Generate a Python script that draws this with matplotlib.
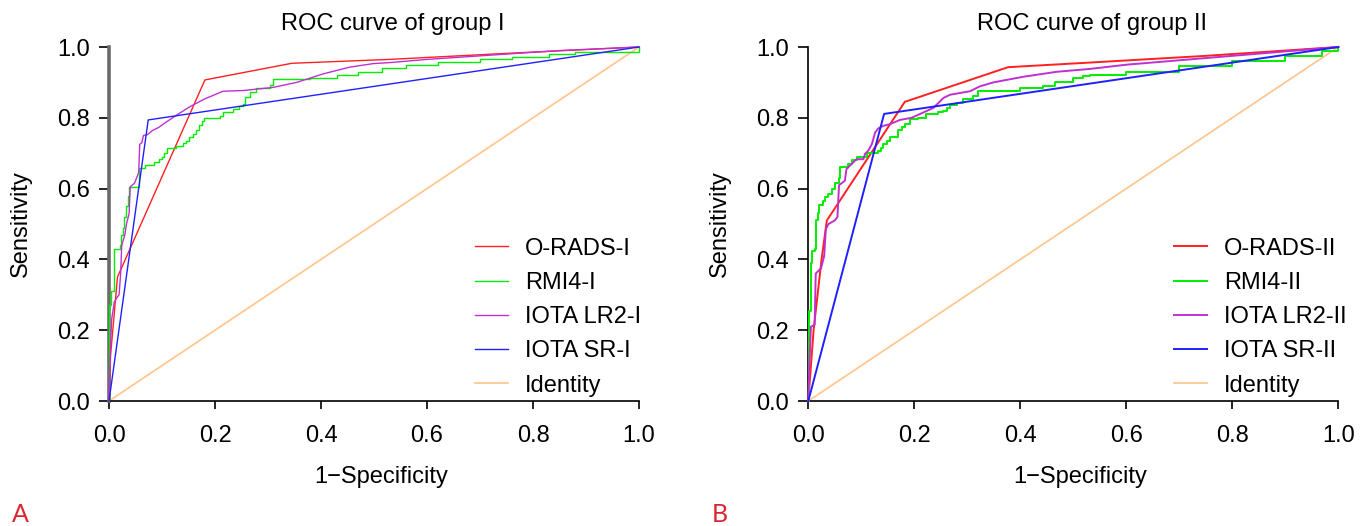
import matplotlib
matplotlib.use("Agg")
import matplotlib.pyplot as plt
import numpy as np

plt.rcParams['font.family'] = ['Liberation Sans', 'DejaVu Sans']

# ---------------- data ----------------
titles = ["ROC curve of group I", "ROC curve of group II"]
xlabel = "1\u2212Specificity"
ylabel = "Sensitivity"
ticks = [0.0, 0.2, 0.4, 0.6, 0.8, 1.0]
tick_labels = ["0.0", "0.2", "0.4", "0.6", "0.8", "1.0"]
panel_letters = ["A", "B"]

labels_A = ["O-RADS-I", "RMI4-I", "IOTA LR2-I", "IOTA SR-I", "Identity"]
labels_B = ["O-RADS-II", "RMI4-II", "IOTA LR2-II", "IOTA SR-II", "Identity"]

# Group I
oradsA_x = [0, 0.003, 0.016, 0.181, 0.345, 0.53, 0.75, 1.0]
oradsA_y = [0, 0.13, 0.35, 0.907, 0.954, 0.965, 0.982, 1.0]

rmiA_x = [0, 0, 0.004, 0.010, 0.020, 0.023, 0.026, 0.029, 0.032, 0.035, 0.038, 0.057,
          0.068, 0.085, 0.094, 0.100, 0.104, 0.110, 0.126, 0.140, 0.145, 0.150, 0.158,
          0.164, 0.170, 0.175, 0.180, 0.210, 0.215, 0.234, 0.245, 0.253, 0.256, 0.266,
          0.278, 0.304, 0.310, 0.380, 0.430, 0.470, 0.515, 0.560, 0.620, 0.700, 0.760,
          0.830, 0.880, 1.0]
rmiA_y = [0, 0.27, 0.31, 0.43, 0.44, 0.47, 0.49, 0.52, 0.55, 0.58, 0.605, 0.657,
          0.668, 0.676, 0.685, 0.69, 0.70, 0.715, 0.72, 0.728, 0.735, 0.745, 0.755,
          0.765, 0.78, 0.79, 0.80, 0.805, 0.815, 0.825, 0.833, 0.84, 0.86, 0.874,
          0.885, 0.894, 0.91, 0.913, 0.92, 0.93, 0.942, 0.95, 0.958, 0.965, 0.972,
          0.98, 0.985, 1.0]

lr2A_x = [0, 0.003, 0.005, 0.010, 0.014, 0.019, 0.022, 0.024, 0.030, 0.033, 0.038, 0.040,
          0.048, 0.052, 0.056, 0.058, 0.062, 0.065, 0.072, 0.082, 0.094, 0.107, 0.126,
          0.151, 0.180, 0.215, 0.253, 0.31, 0.354, 0.404, 0.454, 0.498, 0.53, 0.60,
          0.75, 0.85, 1.0]
lr2A_y = [0, 0.16, 0.23, 0.28, 0.29, 0.30, 0.36, 0.44, 0.47, 0.50, 0.53, 0.605,
          0.615, 0.63, 0.645, 0.725, 0.73, 0.75, 0.752, 0.764, 0.773, 0.787, 0.806,
          0.83, 0.853, 0.875, 0.877, 0.886, 0.90, 0.924, 0.943, 0.953, 0.956, 0.965,
          0.98, 0.99, 1.0]

srA_x = [0, 0.074, 1.0]
srA_y = [0, 0.794, 1.0]

# Group II
oradsB_x = [0, 0.010, 0.025, 0.035, 0.182, 0.377, 0.531, 0.75, 1.0]
oradsB_y = [0, 0.20, 0.40, 0.51, 0.845, 0.943, 0.956, 0.975, 1.0]

rmiB_x = [0, 0.002, 0.005, 0.007, 0.012, 0.014, 0.018, 0.021, 0.028, 0.031, 0.038, 0.044,
          0.050, 0.057, 0.060, 0.075, 0.082, 0.091, 0.110, 0.132, 0.137, 0.141, 0.148,
          0.154, 0.170, 0.176, 0.182, 0.192, 0.207, 0.223, 0.245, 0.255, 0.262, 0.267,
          0.280, 0.292, 0.311, 0.321, 0.393, 0.399, 0.443, 0.465, 0.500, 0.518, 0.531,
          0.600, 0.700, 0.800, 0.900, 0.970, 1.0]
rmiB_y = [0, 0.254, 0.39, 0.425, 0.43, 0.51, 0.53, 0.555, 0.565, 0.575, 0.585, 0.60,
          0.617, 0.63, 0.66, 0.67, 0.68, 0.688, 0.70, 0.706, 0.715, 0.725, 0.735,
          0.745, 0.765, 0.775, 0.782, 0.797, 0.80, 0.81, 0.815, 0.82, 0.828, 0.835,
          0.843, 0.852, 0.862, 0.875, 0.877, 0.885, 0.89, 0.902, 0.912, 0.917, 0.92,
          0.93, 0.945, 0.96, 0.975, 0.99, 1.0]

lr2B_x = [0, 0.002, 0.005, 0.012, 0.014, 0.024, 0.030, 0.033, 0.038, 0.050, 0.055, 0.058,
          0.069, 0.072, 0.082, 0.091, 0.104, 0.107, 0.113, 0.120, 0.126, 0.132, 0.141,
          0.154, 0.173, 0.195, 0.217, 0.236, 0.255, 0.267, 0.305, 0.324, 0.349, 0.406,
          0.469, 0.531, 0.600, 0.800, 1.0]
lr2B_y = [0, 0.10, 0.21, 0.215, 0.36, 0.375, 0.41, 0.485, 0.50, 0.51, 0.52, 0.61,
          0.622, 0.655, 0.67, 0.683, 0.683, 0.698, 0.707, 0.726, 0.758, 0.77, 0.777,
          0.782, 0.794, 0.80, 0.815, 0.828, 0.856, 0.865, 0.875, 0.889, 0.90, 0.916,
          0.93, 0.938, 0.95, 0.975, 1.0]

srB_x = [0, 0.143, 1.0]
srB_y = [0, 0.811, 1.0]

identity_x = [0, 1]
identity_y = [0, 1]

# ---------------- styling ----------------
c_red = '#ff2020'
c_green = '#00ee00'
c_mag = '#c030d0'
c_blue = '#2020ff'
c_id = '#ffc48a'
FS = 17

fig = plt.figure(figsize=(13.62, 5.26), dpi=100)
axA = fig.add_axes([109/1362, 125/526, 530/1362, 354/526])
axB = fig.add_axes([808.3/1362, 125/526, 530/1362, 354/526])

panels = [
    (axA, titles[0], labels_A, [(oradsA_x, oradsA_y, c_red, 'default'),
                                (rmiA_x, rmiA_y, c_green, 'steps-post'),
                                (lr2A_x, lr2A_y, c_mag, 'default'),
                                (srA_x, srA_y, c_blue, 'default')], 1.0),
    (axB, titles[1], labels_B, [(oradsB_x, oradsB_y, c_red, 'default'),
                                (rmiB_x, rmiB_y, c_green, 'steps-post'),
                                (lr2B_x, lr2B_y, c_mag, 'default'),
                                (srB_x, srB_y, c_blue, 'default')], 1.4),
]

for i, (ax, title, labs, series, lw) in enumerate(panels):
    handles = []
    for (xs, ys, col, ds), lab in zip(series, labs[:4]):
        h, = ax.plot(xs, ys, color=col, lw=lw, drawstyle=ds, label=lab, clip_on=False,
                     zorder=3)
        handles.append(h)
    h, = ax.plot(identity_x, identity_y, color=c_id, lw=1.2, label=labs[4], zorder=2)
    handles.append(h)

    ax.set_xlim(0, 1)
    ax.set_ylim(0, 1)
    ax.set_xticks(ticks)
    ax.set_xticklabels(tick_labels)
    ax.set_yticks(ticks)
    ax.set_yticklabels(tick_labels)
    for s in ['top', 'right']:
        ax.spines[s].set_visible(False)
    ax.spines['bottom'].set_linewidth(1.2)
    if i == 0:
        ax.spines['left'].set_linewidth(2.6)
        ax.spines['left'].set_color('#6a6a6a')
    else:
        ax.spines['left'].set_linewidth(1.2)
    ax.tick_params(axis='x', direction='out', length=6, width=1.2, pad=11, labelsize=FS)
    ax.tick_params(axis='y', direction='out', length=7, width=1.2, pad=7, labelsize=FS)
    ax.set_title(title, fontsize=FS, pad=12, x=0.536)
    ax.set_xlabel(xlabel, fontsize=FS, labelpad=14, x=0.513)
    ax.set_ylabel(ylabel, fontsize=FS, labelpad=18)
    ax.legend(handles=handles, loc='lower left', bbox_to_anchor=(0.69, 0.012),
              frameon=False, fontsize=FS, borderpad=0, borderaxespad=0,
              handlelength=1.4, handletextpad=0.72, labelspacing=0.52)

for x, letter in zip([12/1362, 712/1362], panel_letters):
    fig.text(x, 4/526, letter, color='#d9262e', fontsize=18, family=['Lato', 'DejaVu Sans'],
             ha='left', va='baseline')

fig.savefig('out.png', dpi=100)
